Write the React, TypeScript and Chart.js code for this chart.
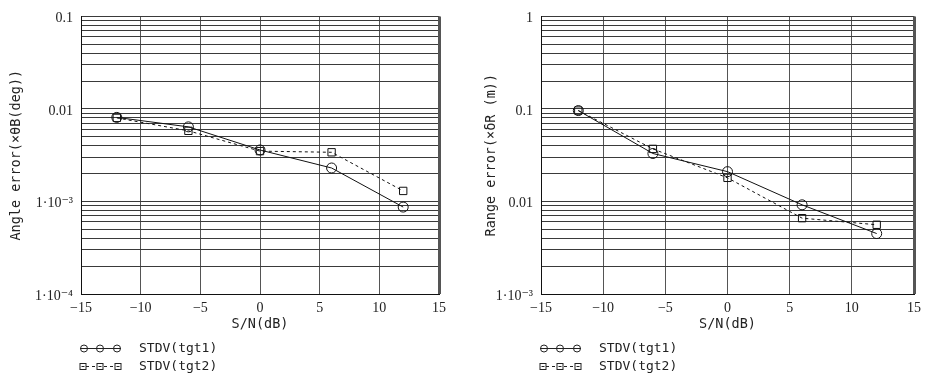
import React, { useEffect, useRef } from "react";
import { Chart, registerables } from "chart.js";

Chart.register(...registerables);

// ---- data ----
const snr = [-12, -6, 0, 6, 12];
const angleTgt1 = [0.0081, 0.0064, 0.0036, 0.0023, 0.00087];
const angleTgt2 = [0.008, 0.0058, 0.0035, 0.0034, 0.0013];
const rangeTgt1 = [0.096, 0.033, 0.021, 0.0092, 0.0045];
const rangeTgt2 = [0.096, 0.037, 0.018, 0.0066, 0.0056];

const seriesNames = ["STDV(tgt1)", "STDV(tgt2)"];
const xTitle = "S/N(dB)";
const angleTitle = "Angle error(×θB(deg))";
const rangeTitle = "Range error(×δR (m))";

const angleDecades = [1e-4, 1e-3, 1e-2, 1e-1];
const angleDecadeLabels = ["1·10⁻⁴", "1·10⁻³", "0.01", "0.1"];
const rangeDecades = [1e-3, 1e-2, 1e-1, 1];
const rangeDecadeLabels = ["1·10⁻³", "0.01", "0.1", "1"];

const SERIF = "'Liberation Serif', 'DejaVu Serif', serif";
const MONO = "'DejaVu Sans Mono', 'Liberation Mono', monospace";

type Cfg = {
  y1: number[];
  y2: number[];
  decades: number[];
  decadeLabels: string[];
  yTitle: string;
  axisWidth: number;
  titlePad: number;
  padRight: number;
};

function minorTicks(decades: number[]) {
  const out: { value: number }[] = [];
  for (let i = 0; i < decades.length - 1; i++) {
    for (let k = 1; k <= 9; k++) out.push({ value: k * decades[i] });
  }
  out.push({ value: decades[decades.length - 1] });
  return out;
}

const frame = {
  id: "frame",
  afterDatasetsDraw(chart: any) {
    const { ctx, chartArea } = chart;
    ctx.save();
    ctx.strokeStyle = "#555";
    ctx.lineWidth = 3;
    ctx.beginPath();
    ctx.moveTo(chartArea.right + 0.5, chartArea.top);
    ctx.lineTo(chartArea.right + 0.5, chartArea.bottom);
    ctx.stroke();
    ctx.restore();
  },
  afterDraw(chart: any) {
    const { ctx, chartArea } = chart;
    const L = chartArea.left;
    const rows = [348.5, 366.5];
    ctx.save();
    ctx.strokeStyle = "#222";
    ctx.lineWidth = 1;
    ctx.beginPath();
    ctx.moveTo(L - 1, rows[0]);
    ctx.lineTo(L + 40, rows[0]);
    ctx.stroke();
    [L + 3, L + 19, L + 36].forEach((cx) => {
      ctx.beginPath();
      ctx.arc(cx, rows[0], 3.5, 0, Math.PI * 2);
      ctx.stroke();
    });
    ctx.setLineDash([3, 3]);
    ctx.beginPath();
    ctx.moveTo(L - 1, rows[1]);
    ctx.lineTo(L + 40, rows[1]);
    ctx.stroke();
    ctx.setLineDash([]);
    [L + 2, L + 19, L + 37].forEach((cx) => {
      ctx.fillStyle = "#fff";
      ctx.fillRect(cx - 3, rows[1] - 3, 6, 6);
      ctx.strokeRect(cx - 3, rows[1] - 3, 6, 6);
      ctx.beginPath();
      ctx.moveTo(cx - 1.5, rows[1]);
      ctx.lineTo(cx + 1.5, rows[1]);
      ctx.stroke();
    });
    ctx.fillStyle = "#222";
    ctx.font = "13px " + MONO;
    ctx.textBaseline = "middle";
    ctx.textAlign = "left";
    ctx.fillText(seriesNames[0], L + 58, rows[0]);
    ctx.fillText(seriesNames[1], L + 58, rows[1]);
    ctx.restore();
  },
};

function PlotCanvas({ cfg, w }: { cfg: Cfg; w: number }) {
  const ref = useRef<HTMLCanvasElement>(null);
  useEffect(() => {
    const ticks = minorTicks(cfg.decades);
    const chart = new Chart(ref.current!, {
      type: "line",
      data: {
        datasets: [
          {
            label: seriesNames[0],
            data: snr.map((x, i) => ({ x, y: cfg.y1[i] })),
            borderColor: "#111",
            borderWidth: 1,
            pointStyle: "circle",
            pointRadius: 5,
            pointBorderColor: "#111",
            pointBackgroundColor: "rgba(0,0,0,0)",
            pointBorderWidth: 1,
            fill: false,
          },
          {
            label: seriesNames[1],
            data: snr.map((x, i) => ({ x, y: cfg.y2[i] })),
            borderColor: "#111",
            borderWidth: 1,
            borderDash: [3, 3],
            pointStyle: "rect",
            pointRadius: 5.2,
            pointBorderColor: "#111",
            pointBackgroundColor: "rgba(0,0,0,0)",
            pointBorderWidth: 1,
            fill: false,
          },
        ],
      },
      options: {
        responsive: false,
        animation: false,
        devicePixelRatio: 1,
        layout: { padding: { top: 9, left: 0, right: cfg.padRight, bottom: 42 } },
        plugins: { legend: { display: false }, tooltip: { enabled: false } },
        scales: {
          x: {
            type: "linear",
            min: -15,
            max: 15,
            afterFit: (s: any) => {
              s.height = 40;
            },
            ticks: {
              stepSize: 5,
              padding: 6,
              color: "#222",
              font: { family: SERIF, size: 14 },
              callback: (v: any) => (v < 0 ? "−" + Math.abs(v) : String(v)),
            },
            grid: { color: "#555", lineWidth: 1, drawTicks: false },
            border: { color: "#111", width: 1 },
            title: {
              display: true,
              text: xTitle,
              color: "#222",
              font: { family: MONO, size: 13.5 },
              padding: { top: 1, bottom: 1 },
            },
          },
          y: {
            type: "logarithmic",
            min: cfg.decades[0],
            max: cfg.decades[cfg.decades.length - 1],
            afterFit: (s: any) => {
              s.width = cfg.axisWidth;
            },
            afterBuildTicks: (s: any) => {
              s.ticks = ticks.map((t) => ({ value: t.value }));
            },
            ticks: {
              autoSkip: false,
              padding: 8,
              labelOffset: 2,
              color: "#222",
              font: { family: SERIF, size: 14 },
              callback: (v: any) => {
                const idx = cfg.decades.findIndex(
                  (d) => Math.abs(Math.log10(v) - Math.log10(d)) < 1e-6
                );
                return idx >= 0 ? cfg.decadeLabels[idx] : "";
              },
            },
            grid: { color: "#3a3a3a", lineWidth: 1, drawTicks: false },
            border: { color: "#111", width: 1 },
            title: {
              display: true,
              text: cfg.yTitle,
              color: "#222",
              font: { family: MONO, size: 13.5 },
              padding: { top: cfg.titlePad, bottom: 0 },
            },
          },
        },
      },
      plugins: [frame],
    } as any);
    return () => chart.destroy();
  }, [cfg]);
  return <canvas ref={ref} width={w} height={376} style={{ display: "block", width: w, height: 376 }} />;
}

const leftCfg: Cfg = {
  y1: angleTgt1,
  y2: angleTgt2,
  decades: angleDecades,
  decadeLabels: angleDecadeLabels,
  yTitle: angleTitle,
  axisWidth: 81,
  titlePad: 8,
  padRight: 24,
};
const rightCfg: Cfg = {
  y1: rangeTgt1,
  y2: rangeTgt2,
  decades: rangeDecades,
  decadeLabels: rangeDecadeLabels,
  yTitle: rangeTitle,
  axisWidth: 78,
  titlePad: 20.5,
  padRight: 12,
};

export default function App() {
  return (
    <div style={{ position: "absolute", left: 0, top: 0, width: 927, height: 376, background: "#fff" }}>
      <div style={{ position: "absolute", left: 0, top: 0 }}>
        <PlotCanvas cfg={leftCfg} w={463} />
      </div>
      <div style={{ position: "absolute", left: 463, top: 0 }}>
        <PlotCanvas cfg={rightCfg} w={464} />
      </div>
    </div>
  );
}
